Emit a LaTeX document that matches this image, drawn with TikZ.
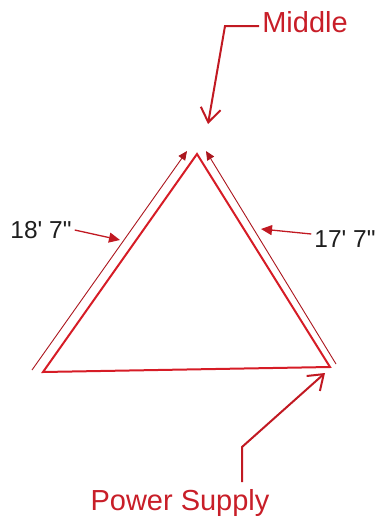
\documentclass[tikz,border=0pt]{standalone}
\usepackage{fontspec}
\setmainfont{Liberation Sans}
\usetikzlibrary{arrows.meta}
\definecolor{wred}{RGB}{214,28,38}
\definecolor{tred}{RGB}{200,30,40}
\definecolor{tblk}{RGB}{30,30,30}
\tikzset{
  side/.style={draw=wred, line width=2pt, line join=miter},
  thin/.style={draw=wred!80!black, line width=0.9pt, -{Triangle[length=9pt,width=8pt]}},
  callout/.style={draw=wred!90!black, line width=2pt, -{Straight Barb[length=14pt,width=20pt,line width=2pt]}},
  dim/.style={draw=wred!90!black, line width=1.3pt, -{Triangle[length=11pt,width=10pt]}},
  redlabel/.style={text=tred, font=\fontsize{29}{30}\selectfont, inner sep=0pt, anchor=base},
  blklabel/.style={text=tblk, font=\fontsize{24.5}{26}\selectfont, inner sep=0pt, anchor=base}
}
\begin{document}
\begin{tikzpicture}[x=1pt,y=-1pt]
\useasboundingbox (0,0) rectangle (380,517);
% triangle corners
\coordinate (A) at (197,154);
\coordinate (B) at (43,372);
\coordinate (C) at (330,367);
\draw[side] (B) -- (A) -- (C) -- cycle;
% thin parallel lines with arrows to apex
\coordinate (L0) at (32,370);
\coordinate (L1) at (187,151);
\coordinate (R0) at (336,364);
\coordinate (R1) at (206,151);
\draw[thin] (L0) -- (L1);
\draw[thin] (R0) -- (R1);
% labels
\node[redlabel] (mid) at (305,32) {Middle};
\node[redlabel] (ps) at (180,510) {Power Supply};
\node[blklabel] (d1) at (41,238) {18\textquotesingle{} 7\textquotedbl};
\node[blklabel] (d2) at (345,247) {17\textquotesingle{} 7\textquotedbl};
% callouts
\coordinate (mc) at (225,26);
\coordinate (mt) at (208,124);
\draw[callout] (mid.west |- 0,26) ++(-3,0) -- (mc) -- (mt);
\coordinate (pc) at (242,447);
\coordinate (pt) at (325,373);
\draw[callout] (242,482) -- (pc) -- (pt);
\coordinate (d1t) at (120,240);
\coordinate (d2t) at (261,229);
\draw[dim] (d1.east |- 0,230) ++(3,0) -- (d1t);
\draw[dim] (d2.west |- 0,234) ++(-3,0) -- (d2t);
\end{tikzpicture}
\end{document}
